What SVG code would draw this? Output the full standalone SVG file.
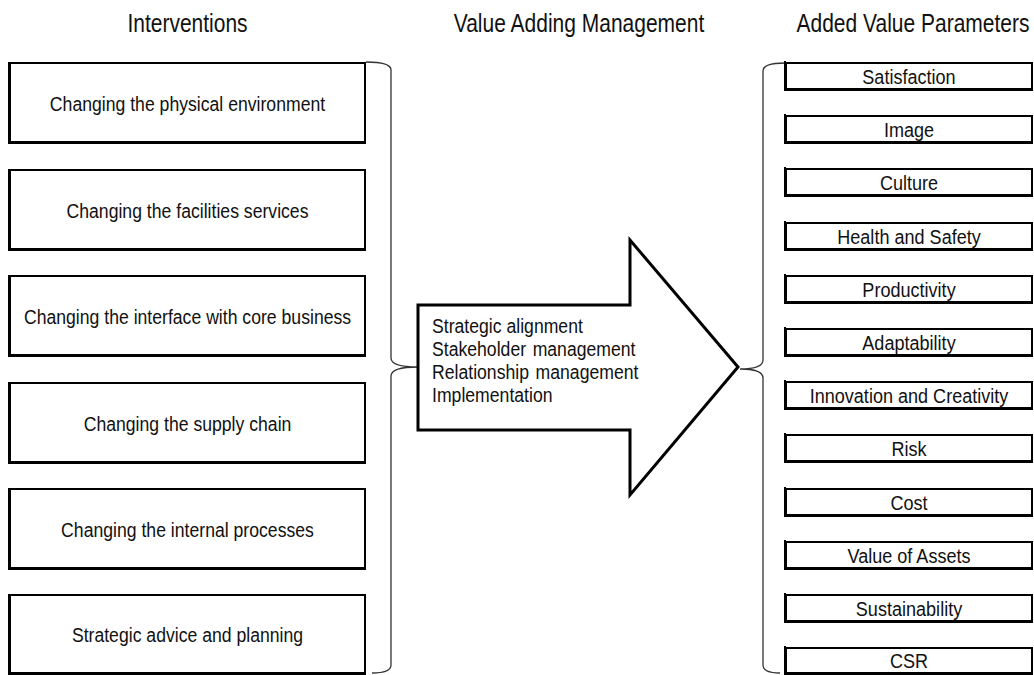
<svg xmlns="http://www.w3.org/2000/svg" width="1034" height="675" viewBox="0 0 1034 675">
<style>
  text { font-family: "Liberation Sans", Arial, sans-serif; fill: #111; }
  .hdr { font-size: 25px; text-anchor: middle; }
  .lt { font-size: 21px; text-anchor: middle; }
  .rt { font-size: 21px; text-anchor: middle; }
  .at { font-size: 21px; }
  .box { fill: #fff; stroke: #000; stroke-width: 2; }
  .sh { fill: none; stroke: #000; stroke-width: 2; }
  .brace { fill: none; stroke: #333; stroke-width: 1.3; }
  .arrow { fill: #fff; stroke: #000; stroke-width: 3; stroke-linejoin: miter; }
</style>
<rect width="1034" height="675" fill="#fff"/>

<g id="headers">
  <text class="hdr" transform="translate(187.5,32) scale(0.84,1)">Interventions</text>
  <text class="hdr" transform="translate(579,32) scale(0.84,1)">Value Adding Management</text>
  <text class="hdr" transform="translate(913,32) scale(0.84,1)">Added Value Parameters</text>
</g>

<g id="connectors">
  <path class="brace" d="M366,62 Q391,62 391,70 V358 Q391,367 418,367 Q391,367 391,376 V665 Q391,673 372,673"/>
  <path class="brace" d="M785,63 Q763,63 763,71 V360 Q763,369 740,369 Q763,369 763,378 V665 Q763,673 780,673"/>
</g>

<g id="arrow-vam">
  <polygon class="arrow" points="418,305 630,305 630,240 738,367 630,495 630,430 418,430"/>
  <text class="at" transform="translate(432,333) scale(0.84,1)">Strategic alignment</text>
  <text class="at" transform="translate(432,356) scale(0.84,1)" word-spacing="2">Stakeholder management</text>
  <text class="at" transform="translate(432,379) scale(0.84,1)" word-spacing="2">Relationship management</text>
  <text class="at" transform="translate(432,402) scale(0.84,1)">Implementation</text>
</g>

<g id="int-1">
  <rect class="box" x="10" y="63" width="355" height="79"/>
  <path class="sh" d="M9,62 V143 H366"/>
  <text class="lt" transform="translate(187.5,111) scale(0.84,1)">Changing the physical environment</text>
</g>
<g id="int-2">
  <rect class="box" x="10" y="170" width="355" height="79"/>
  <path class="sh" d="M9,169 V250 H366"/>
  <text class="lt" transform="translate(187.5,218) scale(0.84,1)">Changing the facilities services</text>
</g>
<g id="int-3">
  <rect class="box" x="10" y="276" width="355" height="79"/>
  <path class="sh" d="M9,275 V356 H366"/>
  <text class="lt" transform="translate(187.5,324) scale(0.84,1)">Changing the interface with core business</text>
</g>
<g id="int-4">
  <rect class="box" x="10" y="383" width="355" height="79"/>
  <path class="sh" d="M9,382 V463 H366"/>
  <text class="lt" transform="translate(187.5,431) scale(0.84,1)">Changing the supply chain</text>
</g>
<g id="int-5">
  <rect class="box" x="10" y="489" width="355" height="79"/>
  <path class="sh" d="M9,488 V569 H366"/>
  <text class="lt" transform="translate(187.5,537) scale(0.84,1)">Changing the internal processes</text>
</g>
<g id="int-6">
  <rect class="box" x="10" y="595" width="355" height="78"/>
  <path class="sh" d="M9,594 V674 H366"/>
  <text class="lt" transform="translate(187.5,642) scale(0.84,1)">Strategic advice and planning</text>
</g>

<g id="par-1"><rect class="box" x="786" y="63" width="246" height="26"/><path class="sh" d="M785,61 V90 H1033"/><text class="rt" transform="translate(909,84) scale(0.86,1)">Satisfaction</text></g>
<g id="par-2"><rect class="box" x="786" y="116" width="246" height="26"/><path class="sh" d="M785,114 V143 H1033"/><text class="rt" transform="translate(909,137) scale(0.86,1)">Image</text></g>
<g id="par-3"><rect class="box" x="786" y="169" width="246" height="26"/><path class="sh" d="M785,167 V196 H1033"/><text class="rt" transform="translate(909,190) scale(0.86,1)">Culture</text></g>
<g id="par-4"><rect class="box" x="786" y="223" width="246" height="26"/><path class="sh" d="M785,221 V250 H1033"/><text class="rt" transform="translate(909,244) scale(0.86,1)">Health and Safety</text></g>
<g id="par-5"><rect class="box" x="786" y="276" width="246" height="26"/><path class="sh" d="M785,274 V303 H1033"/><text class="rt" transform="translate(909,297) scale(0.86,1)">Productivity</text></g>
<g id="par-6"><rect class="box" x="786" y="329" width="246" height="26"/><path class="sh" d="M785,327 V356 H1033"/><text class="rt" transform="translate(909,350) scale(0.86,1)">Adaptability</text></g>
<g id="par-7"><rect class="box" x="786" y="382" width="246" height="26"/><path class="sh" d="M785,380 V409 H1033"/><text class="rt" transform="translate(909,403) scale(0.86,1)">Innovation and Creativity</text></g>
<g id="par-8"><rect class="box" x="786" y="435" width="246" height="26"/><path class="sh" d="M785,433 V462 H1033"/><text class="rt" transform="translate(909,456) scale(0.86,1)">Risk</text></g>
<g id="par-9"><rect class="box" x="786" y="489" width="246" height="26"/><path class="sh" d="M785,487 V516 H1033"/><text class="rt" transform="translate(909,510) scale(0.86,1)">Cost</text></g>
<g id="par-10"><rect class="box" x="786" y="542" width="246" height="26"/><path class="sh" d="M785,540 V569 H1033"/><text class="rt" transform="translate(909,563) scale(0.86,1)">Value of Assets</text></g>
<g id="par-11"><rect class="box" x="786" y="595" width="246" height="26"/><path class="sh" d="M785,593 V622 H1033"/><text class="rt" transform="translate(909,616) scale(0.86,1)">Sustainability</text></g>
<g id="par-12"><rect class="box" x="786" y="648" width="246" height="25"/><path class="sh" d="M785,646 V674 H1033"/><text class="rt" transform="translate(909,668) scale(0.86,1)">CSR</text></g>
</svg>
